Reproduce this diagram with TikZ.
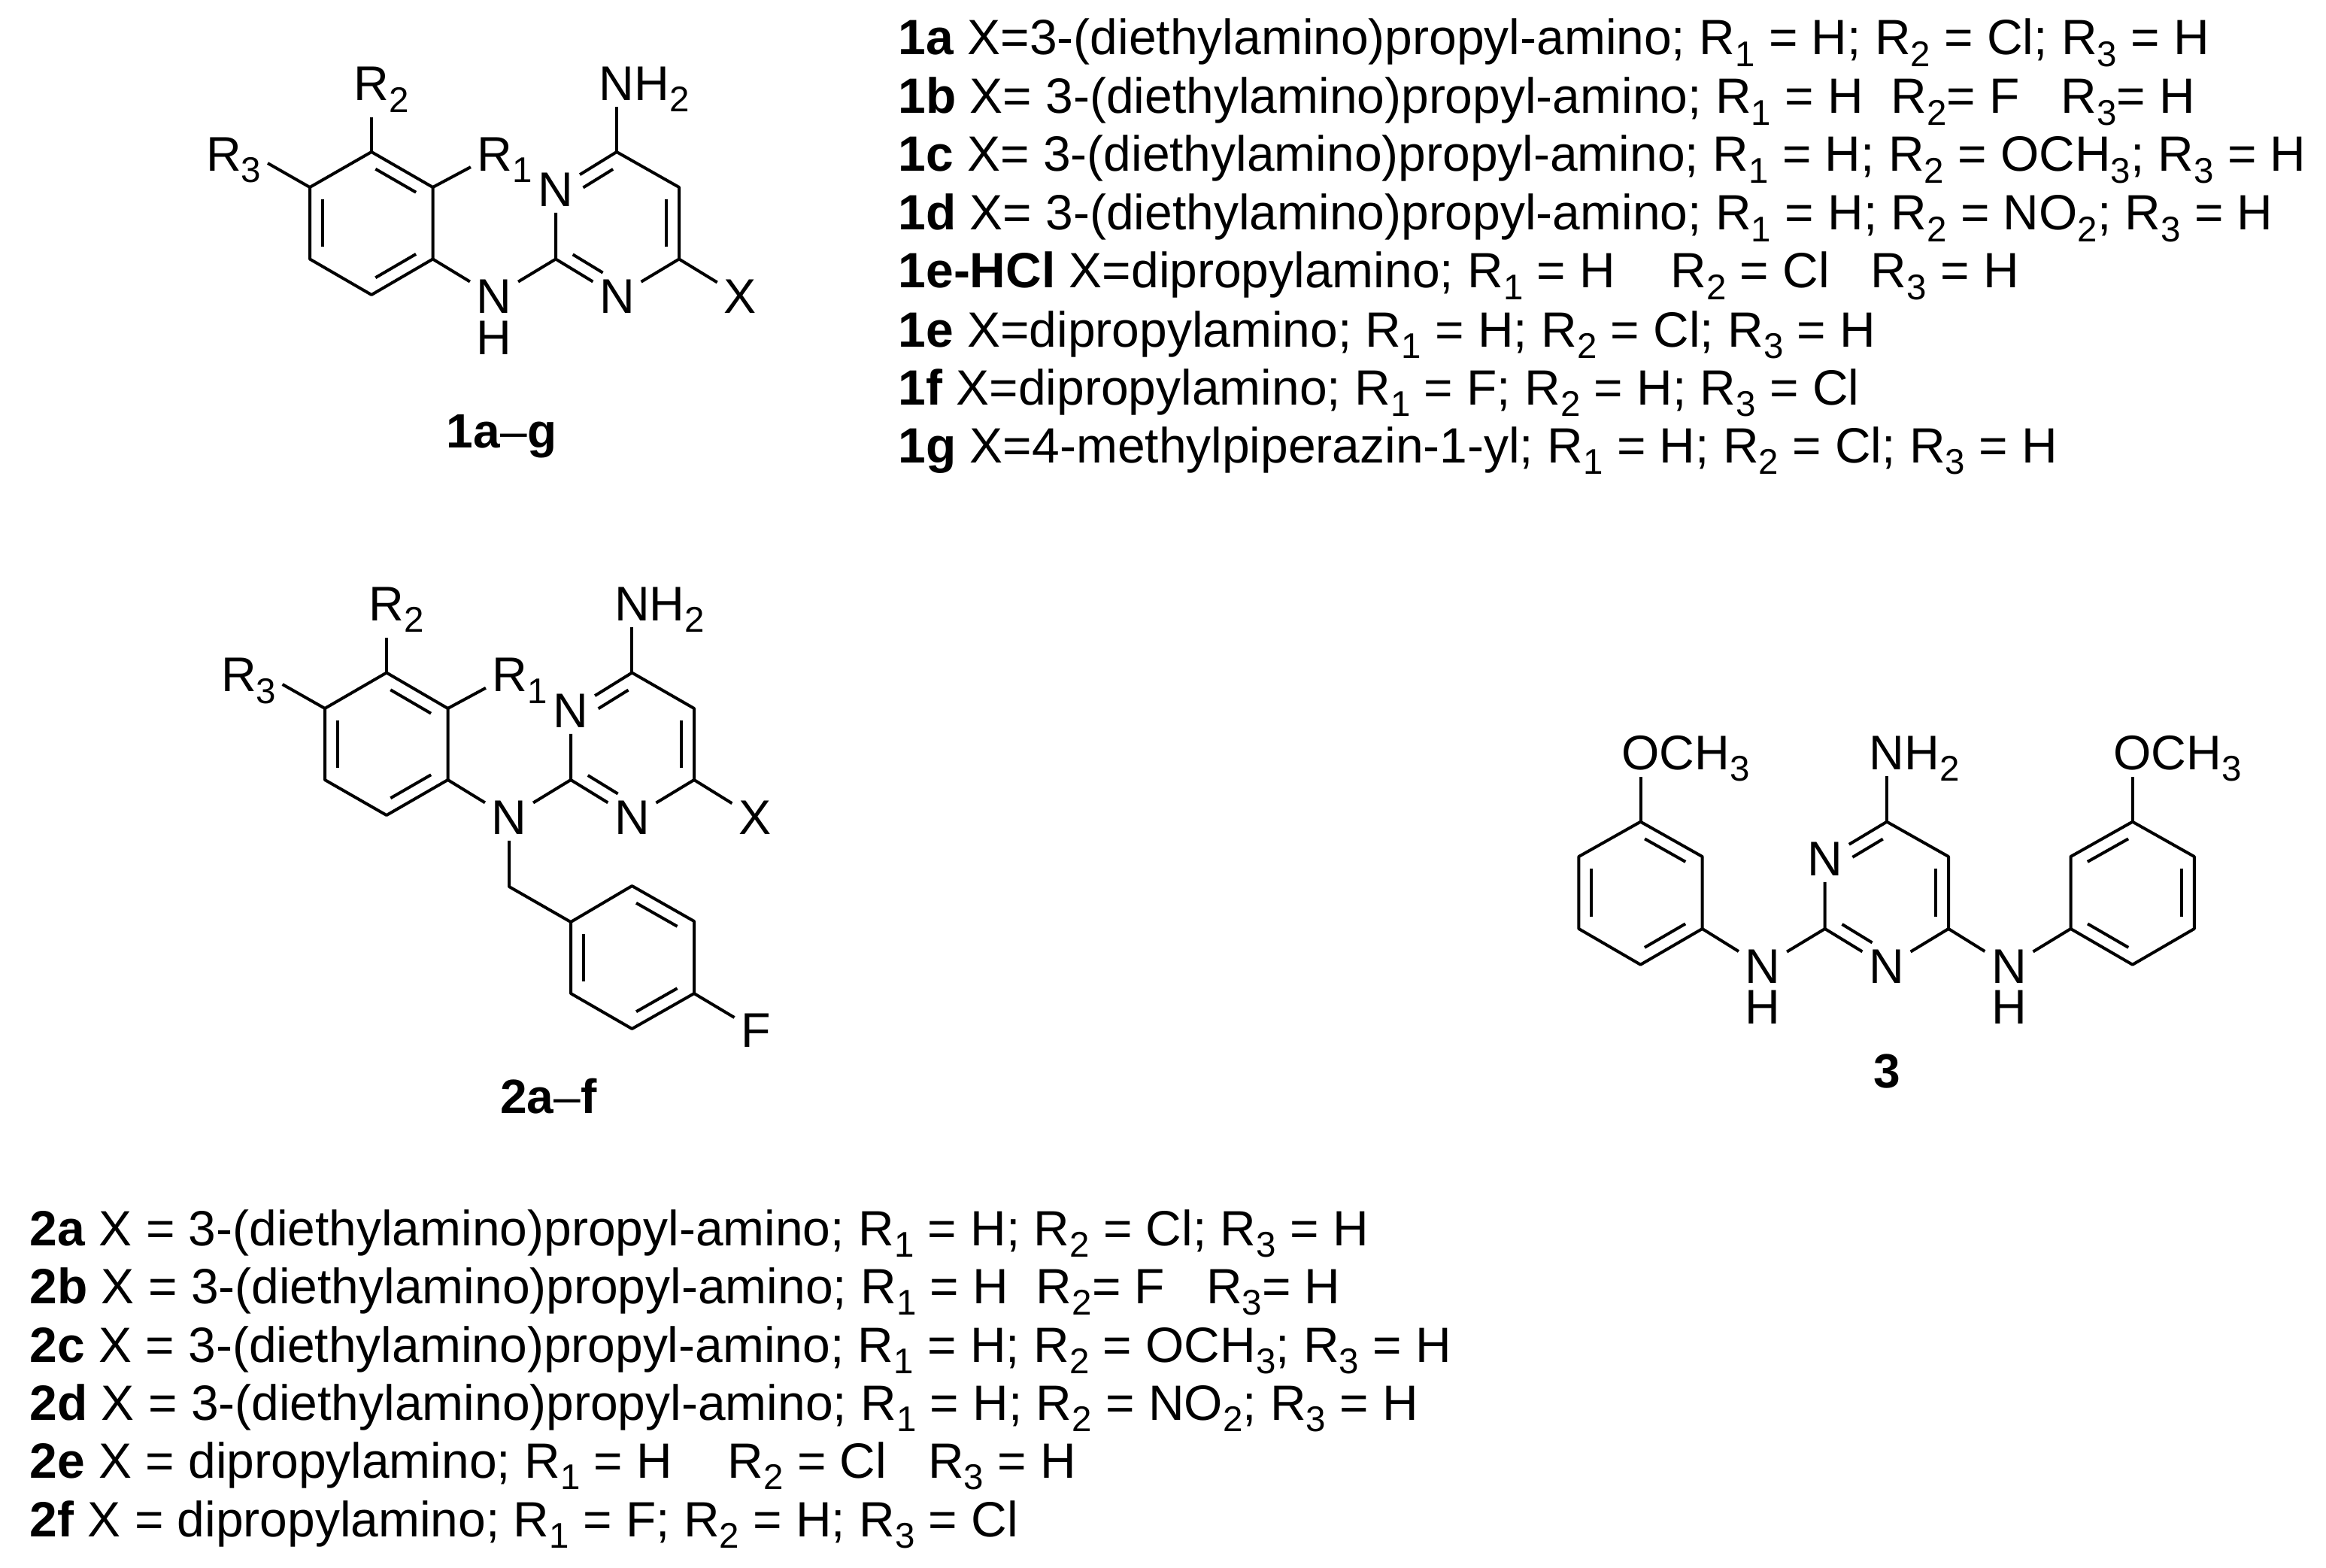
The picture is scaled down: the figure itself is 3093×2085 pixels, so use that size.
\documentclass[tikz,border=0pt]{standalone}
\usepackage{fontspec}
\setmainfont{Liberation Sans}
\usetikzlibrary{calc}
\newcommand{\sbs}[1]{\smash{\raisebox{-0.24em}{\fontsize{13.5}{13.5}\selectfont #1}}}
% inner line of a double bond, going clockwise round the ring
\newcommand{\dbl}[3][.17]{\draw[bond] ($(#2)!#1!(#3)!0.17cm!-90:(#3)$) -- ($(#3)!.17!(#2)!0.17cm!90:(#2)$);}
\tikzset{
  bond/.style={line width=0.04cm, line join=round},
  atom/.style={font=\fontsize{18.4}{18.4}\selectfont, inner sep=0.08cm},
  title/.style={font=\fontsize{18.2}{18.2}\selectfont, anchor=base, inner sep=0pt},
  row/.style={font=\fontsize{18.75}{18.75}\selectfont, anchor=base west, inner sep=0pt}
}
\begin{document}
\begin{tikzpicture}[x=0.01cm, y=-0.01cm]
    \useasboundingbox (0,0) rectangle (3093,2085);

    % Molecule 1
    \coordinate (Aa) at (494,202);
    \coordinate (Ab) at (575.5,249);
    \coordinate (Ac) at (575.5,344.5);
    \coordinate (Ad) at (494,392);
    \coordinate (Ae) at (412,344.5);
    \coordinate (Af) at (412,249);
    \coordinate (Ca) at (820,202);
    \coordinate (Cb) at (903,249);
    \coordinate (Cc) at (903,344.5);
    \coordinate (Cd) at (739,344.5);
    \node[atom] (Nc) at (739,252) {N};
    \node[atom] (Nd) at (820.5,394) {N};
    \node[atom] (NHa) at (657,394) {N};
    \node[atom] (Ha) at (657,449.5) {H};
    \node[atom] (NHb) at (820,111) {N\rlap{H\sbs{2}}};
    \node[atom] (Ra) at (658,205) {R\rlap{\sbs{1}}};
    \node[atom] (Rb) at (494,111.5) {R\rlap{\sbs{2}}};
    \node[atom] (Rc) at (297.5,205) {R\rlap{\sbs{3}}};
    \node[atom] (Xa) at (984,394) {X};
    \coordinate (Rce) at (356,217);
    \draw[bond] (Aa) -- (Ab) -- (Ac) -- (Ad) -- (Ae) -- (Af) -- cycle;
    \draw[bond] (Nc) -- (Ca) -- (Cb) -- (Cc) -- (Nd) -- (Cd) -- (Nc);
    \draw[bond] (Ac) -- (NHa) -- (Cd);
    \draw[bond] (Ca) -- (NHb);
    \draw[bond] (Ab) -- (Ra);
    \draw[bond, shorten >=0.14cm] (Aa) -- (Rb);
    \draw[bond] (Af) -- (Rce);
    \draw[bond] (Cc) -- (Xa);
    \dbl{Aa}{Ab} \dbl{Ac}{Ad} \dbl{Ae}{Af}
    \dbl[.34]{Nc}{Ca} \dbl{Cb}{Cc} \dbl[.34]{Nd}{Cd}
    \node[title] (T1) at (667,595.5) {\textbf{1a}–\textbf{g}};

    % Molecule 2
    \coordinate (Ba) at (514,894.5);
    \coordinate (Bb) at (595.5,942);
    \coordinate (Bc) at (595.5,1037);
    \coordinate (Bd) at (514,1084);
    \coordinate (Be) at (432,1037);
    \coordinate (Bf) at (432,942);
    \coordinate (Da) at (840.4,894.5);
    \coordinate (Db) at (923,942);
    \coordinate (Dc) at (923,1037);
    \coordinate (Dd) at (759,1037);
    \coordinate (Ea) at (840.4,1178);
    \coordinate (Eb) at (923,1225);
    \coordinate (Ec) at (923,1321);
    \coordinate (Ed) at (840.4,1368);
    \coordinate (Ee) at (759,1321);
    \coordinate (Ef) at (759,1226);
    \coordinate (Me) at (677,1179);
    \node[atom] (Ne) at (759,945) {N};
    \node[atom] (Nf) at (840.4,1087) {N};
    \node[atom] (Ng) at (677,1087) {N};
    \node[atom] (NHc) at (840.4,803) {N\rlap{H\sbs{2}}};
    \node[atom] (Rd) at (678,897.5) {R\rlap{\sbs{1}}};
    \node[atom] (Re) at (514,803) {R\rlap{\sbs{2}}};
    \node[atom] (Rf) at (317.5,897.5) {R\rlap{\sbs{3}}};
    \node[atom] (Xb) at (1003.7,1087) {X};
    \node[atom] (Fa) at (1005,1370) {F};
    \coordinate (Rfe) at (375.6,910);
    \draw[bond] (Ba) -- (Bb) -- (Bc) -- (Bd) -- (Be) -- (Bf) -- cycle;
    \draw[bond] (Ne) -- (Da) -- (Db) -- (Dc) -- (Nf) -- (Dd) -- (Ne);
    \draw[bond] (Ea) -- (Eb) -- (Ec) -- (Ed) -- (Ee) -- (Ef) -- cycle;
    \draw[bond] (Bc) -- (Ng) -- (Dd);
    \draw[bond] (Ng) -- (Me) -- (Ef);
    \draw[bond] (Da) -- (NHc);
    \draw[bond] (Bb) -- (Rd);
    \draw[bond, shorten >=0.14cm] (Ba) -- (Re);
    \draw[bond] (Bf) -- (Rfe);
    \draw[bond] (Dc) -- (Xb);
    \draw[bond] (Ec) -- (Fa);
    \dbl{Ba}{Bb} \dbl{Bc}{Bd} \dbl{Be}{Bf}
    \dbl[.34]{Ne}{Da} \dbl{Db}{Dc} \dbl[.34]{Nf}{Dd}
    \dbl{Ea}{Eb} \dbl{Ec}{Ed} \dbl{Ee}{Ef}
    \node[title] (T2) at (729.7,1480) {\textbf{2a}–\textbf{f}};

    % Molecule 3
    \coordinate (Ga) at (2181.5,1092.7);
    \coordinate (Gb) at (2263.6,1139);
    \coordinate (Gc) at (2263.6,1235);
    \coordinate (Gd) at (2181.5,1282.7);
    \coordinate (Ge) at (2099.4,1235);
    \coordinate (Gf) at (2099.4,1139);
    \coordinate (Ia) at (2509,1092.7);
    \coordinate (Ib) at (2591,1139);
    \coordinate (Ic) at (2591,1235);
    \coordinate (Id) at (2426.7,1235);
    \coordinate (Ja) at (2835.7,1092.7);
    \coordinate (Jb) at (2917.8,1139);
    \coordinate (Jc) at (2917.8,1235);
    \coordinate (Jd) at (2835.7,1282.7);
    \coordinate (Je) at (2753.5,1235);
    \coordinate (Jf) at (2753.5,1139);
    \node[atom] (Ni) at (2426.7,1142) {N};
    \node[atom] (Nj) at (2508.5,1285) {N};
    \node[atom] (Nk) at (2344,1285) {N};
    \node[atom] (Hk) at (2344,1339) {H};
    \node[atom] (Nl) at (2671.4,1285) {N};
    \node[atom] (Hl) at (2671.4,1339) {H};
    \node[atom] (NHd) at (2509,1001) {N\rlap{H\sbs{2}}};
    \node[atom] (Oa) at (2181.5,1001) {O\rlap{CH\sbs{3}}};
    \node[atom] (Ob) at (2835.7,1001) {O\rlap{CH\sbs{3}}};
    \draw[bond] (Ga) -- (Gb) -- (Gc) -- (Gd) -- (Ge) -- (Gf) -- cycle;
    \draw[bond] (Ni) -- (Ia) -- (Ib) -- (Ic) -- (Nj) -- (Id) -- (Ni);
    \draw[bond] (Ja) -- (Jb) -- (Jc) -- (Jd) -- (Je) -- (Jf) -- cycle;
    \draw[bond] (Gc) -- (Nk) -- (Id);
    \draw[bond] (Ic) -- (Nl) -- (Je);
    \draw[bond] (Ga) -- (Oa);
    \draw[bond] (Ia) -- (NHd);
    \draw[bond] (Ja) -- (Ob);
    \dbl{Ga}{Gb} \dbl{Gc}{Gd} \dbl{Ge}{Gf}
    \dbl[.34]{Ni}{Ia} \dbl{Ib}{Ic} \dbl[.34]{Nj}{Id}
    \dbl{Jf}{Ja} \dbl{Jb}{Jc} \dbl{Jd}{Je}
    \node[title] (T3) at (2509,1446) {\textbf{3}};

    % Substituents of 1
    \node[row] (La) at (1194,73) {\textbf{1a} X=3-(diethylamino)propyl-amino; R\sbs{1} = H; R\sbs{2} = Cl; R\sbs{3} = H};
    \node[row] (Lb) at (1194,151) {\textbf{1b} X= 3-(diethylamino)propyl-amino; R\sbs{1} = H~~R\sbs{2}= F~~~R\sbs{3}= H};
    \node[row] (Lc) at (1194,228) {\textbf{1c} X= 3-(diethylamino)propyl-amino; R\sbs{1} = H; R\sbs{2} = OCH\sbs{3}; R\sbs{3} = H};
    \node[row] (Ld) at (1194,306) {\textbf{1d} X= 3-(diethylamino)propyl-amino; R\sbs{1} = H; R\sbs{2} = NO\sbs{2}; R\sbs{3} = H};
    \node[row] (Le) at (1194,383) {\textbf{1e-HCl} X=dipropylamino; R\sbs{1} = H~~~~R\sbs{2} = Cl~~~R\sbs{3} = H};
    \node[row] (Lf) at (1194,461) {\textbf{1e} X=dipropylamino; R\sbs{1} = H; R\sbs{2} = Cl; R\sbs{3} = H};
    \node[row] (Lg) at (1194,538) {\textbf{1f} X=dipropylamino; R\sbs{1} = F; R\sbs{2} = H; R\sbs{3} = Cl};
    \node[row] (Lh) at (1194,615) {\textbf{1g} X=4-methylpiperazin-1-yl; R\sbs{1} = H; R\sbs{2} = Cl; R\sbs{3} = H};

    % Substituents of 2
    \node[row] (Pa) at (39,1656) {\textbf{2a} X = 3-(diethylamino)propyl-amino; R\sbs{1} = H; R\sbs{2} = Cl; R\sbs{3} = H};
    \node[row] (Pb) at (39,1733) {\textbf{2b} X = 3-(diethylamino)propyl-amino; R\sbs{1} = H~~R\sbs{2}= F~~~R\sbs{3}= H};
    \node[row] (Pc) at (39,1811) {\textbf{2c} X = 3-(diethylamino)propyl-amino; R\sbs{1} = H; R\sbs{2} = OCH\sbs{3}; R\sbs{3} = H};
    \node[row] (Pd) at (39,1888) {\textbf{2d} X = 3-(diethylamino)propyl-amino; R\sbs{1} = H; R\sbs{2} = NO\sbs{2}; R\sbs{3} = H};
    \node[row] (Pe) at (39,1965) {\textbf{2e} X = dipropylamino; R\sbs{1} = H~~~~R\sbs{2} = Cl~~~R\sbs{3} = H};
    \node[row] (Pf) at (39,2043) {\textbf{2f} X = dipropylamino; R\sbs{1} = F; R\sbs{2} = H; R\sbs{3} = Cl};
\end{tikzpicture}
\end{document}
